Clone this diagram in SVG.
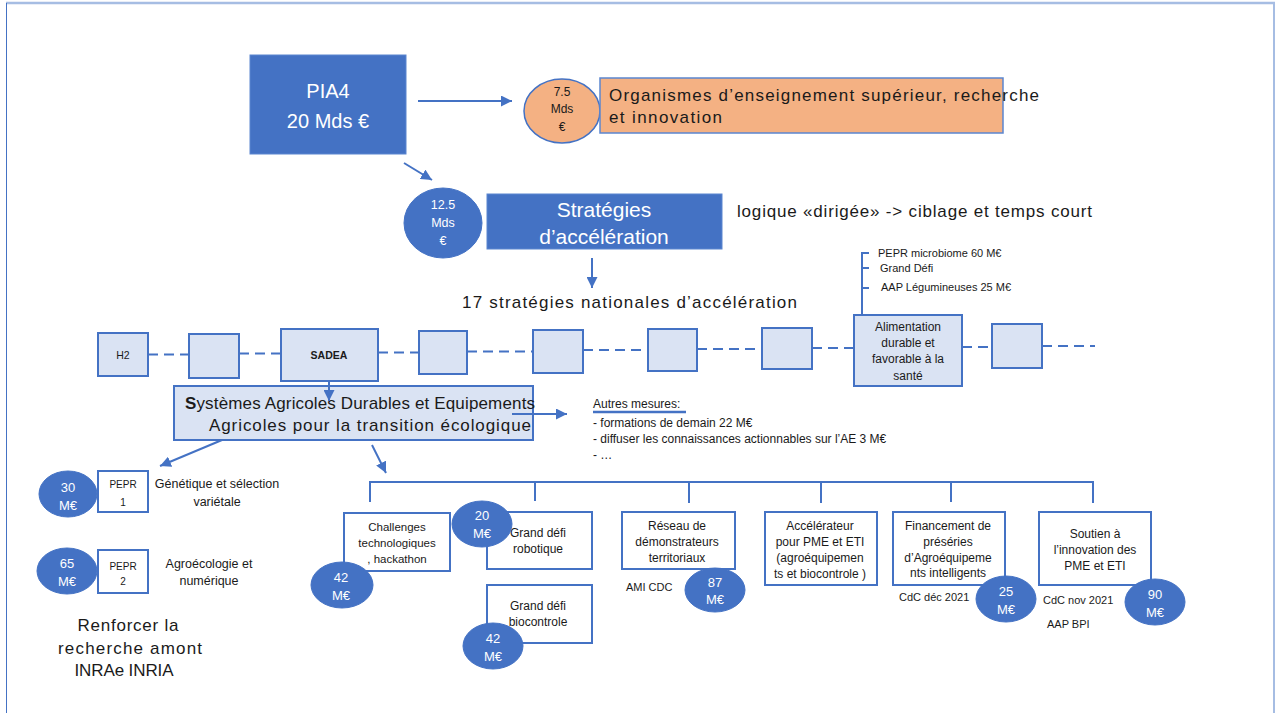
<svg xmlns="http://www.w3.org/2000/svg" width="1278" height="713" viewBox="0 0 1278 713">
<style>
.t{font-family:"Liberation Sans",Arial,sans-serif;fill:#1a1a1a}
.c{text-anchor:middle}
.w{fill:#fff}
.bx{fill:#DAE3F3;stroke:#4472C4;stroke-width:2}
.wb{fill:#fff;stroke:#4472C4;stroke-width:2}
.blue{fill:#4472C4;stroke:#5B86D0;stroke-width:1}
.cir{fill:#4472C4;stroke:#4472C4;stroke-width:1}
.ln{stroke:#4472C4;stroke-width:2;fill:none}
.ar{stroke:#4472C4;stroke-width:2;fill:none;marker-end:url(#ah)}
.dash{stroke:#4472C4;stroke-width:2;fill:none;stroke-dasharray:10 6}
</style>
<defs>
<marker id="ah" markerUnits="userSpaceOnUse" markerWidth="11" markerHeight="11" refX="11" refY="5.5" orient="auto">
<path d="M0,0 L11,5.5 L0,11 z" fill="#4472C4"/>
</marker>
</defs>
<rect width="1278" height="713" fill="#fff"/>
<g id="frame">
<line x1="6" y1="3" x2="1275" y2="3" stroke="#A6BDE3" stroke-width="2.5"/>
<line x1="6.5" y1="3" x2="6.5" y2="713" stroke="#4472C4" stroke-width="1"/>
<line x1="1274" y1="3" x2="1274" y2="713" stroke="#A6BDE3" stroke-width="2"/>
</g>

<g id="pia4">
<rect class="blue" x="250" y="55" width="156" height="99"/>
<text class="t c w" x="328" y="98" font-size="20">PIA4</text>
<text class="t c w" x="328" y="128" font-size="20">20 Mds €</text>
</g>
<g id="c75">
<ellipse cx="562" cy="111" rx="38" ry="32" fill="#F4B183" stroke="#4472C4" stroke-width="1.5"/>
<text class="t c" x="562" y="96" font-size="12">7.5</text>
<text class="t c" x="562" y="113" font-size="12">Mds</text>
<text class="t c" x="562" y="131" font-size="12">€</text>
</g>
<g id="organismes">
<rect x="600" y="78" width="403" height="55" fill="#F4B183" stroke="#5B86D0" stroke-width="1.5"/>
<text class="t" x="609" y="101" font-size="17" textLength="430" lengthAdjust="spacing">Organismes d’enseignement supérieur, recherche</text>
<text class="t" x="609" y="123" font-size="17" textLength="113" lengthAdjust="spacing">et innovation</text>
</g>
<g id="c125">
<ellipse class="cir" cx="443" cy="223" rx="39" ry="35"/>
<text class="t c w" x="443" y="209" font-size="12.5">12.5</text>
<text class="t c w" x="443" y="227" font-size="12.5">Mds</text>
<text class="t c w" x="443" y="245" font-size="12.5">€</text>
</g>
<g id="strategies">
<rect class="blue" x="487" y="194" width="235" height="55"/>
<text class="t c w" x="604" y="217" font-size="21">Stratégies</text>
<text class="t c w" x="604" y="244" font-size="21">d’accélération</text>
</g>
<g id="logique">
<text class="t" x="737" y="217" font-size="17" textLength="355" lengthAdjust="spacing">logique «dirigée» -&gt; ciblage et temps court</text>
</g>
<g id="strat17">
<text class="t" x="462" y="308" font-size="17" textLength="335" lengthAdjust="spacing">17 stratégies nationales d’accélération</text>
</g>

<g id="row">
<g id="h2"><rect class="bx" x="98" y="333" width="50" height="43"/><text class="t c" x="123" y="359" font-size="10.5">H2</text></g>
<g id="s2"><rect class="bx" x="189" y="334" width="50" height="44"/></g>
<g id="sadea"><rect class="bx" x="281" y="329" width="97" height="52"/><text class="t c" x="329" y="359" font-size="10.5" font-weight="bold">SADEA</text></g>
<g id="s4"><rect class="bx" x="419" y="331" width="48" height="43"/></g>
<g id="s5"><rect class="bx" x="533" y="330" width="50" height="43"/></g>
<g id="s6"><rect class="bx" x="648" y="329" width="49" height="42"/></g>
<g id="s7"><rect class="bx" x="762" y="328" width="50" height="41"/></g>
<g id="alim"><rect class="bx" x="854" y="315" width="108" height="71"/>
<text class="t c" x="908" y="331" font-size="12">Alimentation</text>
<text class="t c" x="908" y="347" font-size="12">durable et</text>
<text class="t c" x="908" y="363" font-size="12">favorable à la</text>
<text class="t c" x="908" y="380" font-size="12">santé</text>
</g>
<g id="s9"><rect class="bx" x="992" y="324" width="50" height="44"/></g>
</g>

<g id="alim-measures">
<text class="t" x="878" y="257" font-size="11">PEPR microbiome 60 M€</text>
<text class="t" x="880" y="272" font-size="11">Grand Défi</text>
<text class="t" x="881" y="291" font-size="11">AAP Légumineuses 25 M€</text>
</g>

<g id="sadea-desc">
<rect class="bx" x="174" y="386" width="359" height="54"/>
<text class="t" x="185" y="409" font-size="17" textLength="350" lengthAdjust="spacing"><tspan font-weight="bold">S</tspan>ystèmes Agricoles Durables et Equipements</text>
<text class="t" x="209" y="431" font-size="17" textLength="322" lengthAdjust="spacing">Agricoles pour la transition écologique</text>
</g>

<g id="autres">
<text class="t" x="593" y="408" font-size="12">Autres mesures:</text>
<line x1="593" y1="412" x2="686" y2="412" stroke="#4472C4" stroke-width="2.5"/>
<text class="t" x="593" y="427" font-size="12">- formations de demain 22 M€</text>
<text class="t" x="593" y="443" font-size="12">- diffuser les connaissances actionnables sur l’AE 3 M€</text>
<text class="t" x="593" y="459" font-size="12">- …</text>
</g>

<g id="pepr1">
<ellipse class="cir" cx="68" cy="494" rx="29" ry="23"/>
<text class="t c w" x="68" y="492" font-size="13">30</text>
<text class="t c w" x="68" y="510" font-size="13">M€</text>
<rect class="wb" x="98" y="471" width="50" height="41"/>
<text class="t c" x="123" y="488" font-size="10">PEPR</text>
<text class="t c" x="123" y="506" font-size="10">1</text>
<text class="t c" x="217" y="488" font-size="12.5">Génétique et sélection</text>
<text class="t c" x="217" y="506" font-size="12.5">variétale</text>
</g>
<g id="pepr2">
<ellipse class="cir" cx="67" cy="571" rx="30" ry="23"/>
<text class="t c w" x="67" y="568" font-size="13">65</text>
<text class="t c w" x="67" y="586" font-size="13">M€</text>
<rect class="wb" x="98" y="550" width="50" height="43"/>
<text class="t c" x="123" y="570" font-size="10">PEPR</text>
<text class="t c" x="123" y="585" font-size="10">2</text>
<text class="t c" x="209" y="568" font-size="12.5">Agroécologie et</text>
<text class="t c" x="209" y="585" font-size="12.5">numérique</text>
</g>
<g id="renforcer">
<text class="t c" x="128" y="631" font-size="17" textLength="101" lengthAdjust="spacing">Renforcer la</text>
<text class="t c" x="130" y="654" font-size="17" textLength="144" lengthAdjust="spacing">recherche amont</text>
<text class="t c" x="124" y="676" font-size="17" textLength="99" lengthAdjust="spacing">INRAe INRIA</text>
</g>

<g id="challenges">
<rect class="wb" x="344" y="513" width="106" height="58"/>
<text class="t c" x="397" y="531" font-size="11.5">Challenges</text>
<text class="t c" x="397" y="547" font-size="11.5">technologiques</text>
<text class="t c" x="397" y="563" font-size="11.5">, hackathon</text>
<ellipse class="cir" cx="342" cy="585" rx="31" ry="23"/>
<text class="t c w" x="341" y="582" font-size="13">42</text>
<text class="t c w" x="341" y="600" font-size="13">M€</text>
</g>
<g id="robotique">
<rect class="wb" x="487" y="512" width="105" height="57"/>
<text class="t c" x="538" y="537" font-size="12">Grand défi</text>
<text class="t c" x="538" y="553" font-size="12">robotique</text>
<ellipse class="cir" cx="482" cy="524" rx="30" ry="23"/>
<text class="t c w" x="482" y="520" font-size="13">20</text>
<text class="t c w" x="482" y="538" font-size="13">M€</text>
</g>
<g id="biocontrole">
<rect class="wb" x="487" y="585" width="105" height="58"/>
<text class="t c" x="538" y="610" font-size="12">Grand défi</text>
<text class="t c" x="538" y="626" font-size="12">biocontrole</text>
<ellipse class="cir" cx="493" cy="646" rx="30" ry="23"/>
<text class="t c w" x="493" y="643" font-size="13">42</text>
<text class="t c w" x="493" y="661" font-size="13">M€</text>
</g>
<g id="reseau">
<rect class="wb" x="622" y="512" width="113" height="57"/>
<text class="t c" x="677" y="530" font-size="12">Réseau de</text>
<text class="t c" x="677" y="546" font-size="12">démonstrateurs</text>
<text class="t c" x="677" y="562" font-size="12">territoriaux</text>
<text class="t" x="626" y="591" font-size="11">AMI CDC</text>
<ellipse class="cir" cx="715" cy="590" rx="30" ry="22"/>
<text class="t c w" x="715" y="587" font-size="13">87</text>
<text class="t c w" x="715" y="604" font-size="13">M€</text>
</g>
<g id="accelerateur">
<rect class="wb" x="765" y="512" width="112" height="73"/>
<text class="t c" x="820" y="530" font-size="12">Accélérateur</text>
<text class="t c" x="820" y="546" font-size="12">pour PME et ETI</text>
<text class="t c" x="820" y="562" font-size="12">(agroéquipemen</text>
<text class="t c" x="820" y="578" font-size="12">ts et biocontrole )</text>
</g>
<g id="financement">
<rect class="wb" x="893" y="512" width="112" height="73"/>
<text class="t c" x="948" y="530" font-size="12">Financement de</text>
<text class="t c" x="948" y="546" font-size="12">préséries</text>
<text class="t c" x="948" y="562" font-size="12">d’Agroéquipeme</text>
<text class="t c" x="948" y="577" font-size="12">nts intelligents</text>
<text class="t" x="899" y="601" font-size="11">CdC déc 2021</text>
<ellipse class="cir" cx="1006" cy="599" rx="30" ry="23"/>
<text class="t c w" x="1006" y="596" font-size="13">25</text>
<text class="t c w" x="1006" y="614" font-size="13">M€</text>
</g>
<g id="soutien">
<rect class="wb" x="1039" y="512" width="112" height="73"/>
<text class="t c" x="1095" y="538" font-size="12">Soutien à</text>
<text class="t c" x="1095" y="554" font-size="12">l’innovation des</text>
<text class="t c" x="1095" y="570" font-size="12">PME et ETI</text>
<text class="t" x="1043" y="604" font-size="11">CdC nov 2021</text>
<text class="t" x="1047" y="628" font-size="11">AAP BPI</text>
<ellipse class="cir" cx="1155" cy="602" rx="30" ry="23"/>
<text class="t c w" x="1155" y="599" font-size="13">90</text>
<text class="t c w" x="1155" y="617" font-size="13">M€</text>
</g>

<g id="connectors">
<line class="ar" x1="418" y1="101" x2="512" y2="101"/>
<line class="ar" x1="404" y1="163" x2="432" y2="180"/>
<line class="ar" x1="592" y1="258" x2="592" y2="288"/>
<line class="ar" x1="329" y1="381" x2="329" y2="401"/>
<line class="ar" x1="512" y1="414" x2="567" y2="414"/>
<line class="ar" x1="222" y1="440" x2="160" y2="466"/>
<line class="ar" x1="372" y1="445" x2="386" y2="473"/>
<line class="dash" x1="148" y1="354.5" x2="189" y2="354.5"/>
<line class="dash" x1="239" y1="353.5" x2="281" y2="353.5"/>
<line class="dash" x1="378" y1="352.5" x2="419" y2="352.5"/>
<line class="dash" x1="467" y1="351.5" x2="533" y2="351.5"/>
<line class="dash" x1="583" y1="350" x2="648" y2="350"/>
<line class="dash" x1="697" y1="349" x2="762" y2="349"/>
<line class="dash" x1="812" y1="348" x2="854" y2="348"/>
<line class="dash" x1="962" y1="347" x2="992" y2="347"/>
<line class="dash" x1="1042" y1="346" x2="1095" y2="346"/>
<path class="ln" d="M862,315 V253 H869 M862,268 H869 M862,288 H869"/>
<path class="ln" d="M370,502 V482 H1093 V503 M535,482 V501 M689,482 V503 M821,482 V503 M951,482 V502"/>
</g>
</svg>
